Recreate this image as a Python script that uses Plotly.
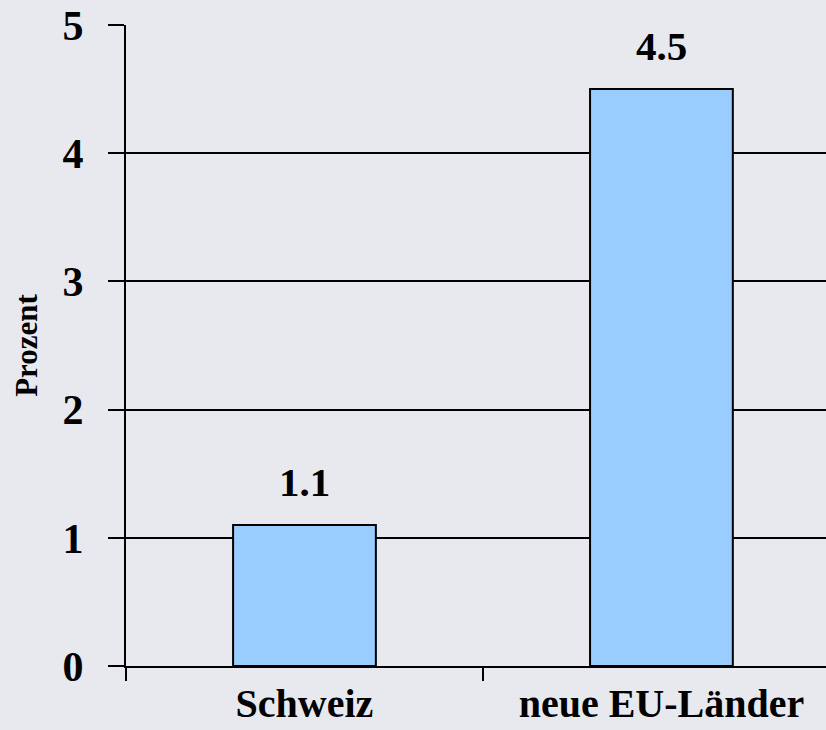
import plotly.graph_objects as go

categories = ["Schweiz", "neue EU-Länder"]
values = [1.1, 4.5]
value_labels = ["1.1", "4.5"]
y_ticks = [0, 1, 2, 3, 4, 5]

FONT = "'Liberation Serif', 'Times New Roman', serif"
BG = "#E7E9EF"

fig = go.Figure()
fig.add_trace(go.Bar(
    x=categories, y=values, width=0.4,
    marker=dict(color="#99CCFF", line=dict(color="black", width=2)),
    hoverinfo="skip",
))

for c, v, t in zip(categories, values, value_labels):
    fig.add_annotation(x=c, y=v, text="<b>" + t + "</b>", showarrow=False, yanchor="bottom",
                       yshift=18, font=dict(family=FONT, size=41, color="black"))

fig.update_layout(
    width=826, height=730,
    margin=dict(l=126, r=0, t=25, b=64),
    paper_bgcolor=BG, plot_bgcolor="rgba(0,0,0,0)",
    showlegend=False,
    bargap=0.6,
)
fig.update_xaxes(
    type="category", range=[-0.5, 1.461], automargin=False,
    tickson="boundaries", ticks="outside", ticklen=13, tickwidth=2, tickcolor="black",
    showline=True, linecolor="black", linewidth=2,
    showgrid=False, zeroline=False,
    tickvals=categories, ticktext=["<b>" + c + "</b>" for c in categories],
    tickfont=dict(family=FONT, size=40, color="black"),
    ticklabelstandoff=1,
)
fig.update_yaxes(
    range=[0, 5], tickvals=y_ticks, ticktext=["<b>%d</b>" % v for v in y_ticks],
    automargin=False,
    ticks="outside", ticklen=16, tickwidth=2, tickcolor="black",
    showline=True, linecolor="black", linewidth=2,
    showgrid=True, gridcolor="black", gridwidth=2, zeroline=False,
    tickfont=dict(family=FONT, size=42, color="black"),
    ticklabelstandoff=16,
    title=dict(text="<b>Prozent</b>", standoff=16,
               font=dict(family=FONT, size=31, color="black")),
)

fig.write_html("out.html", config={"displayModeBar": False},
               post_script="document.body.style.margin='0';document.body.style.background='%s';" % BG)
